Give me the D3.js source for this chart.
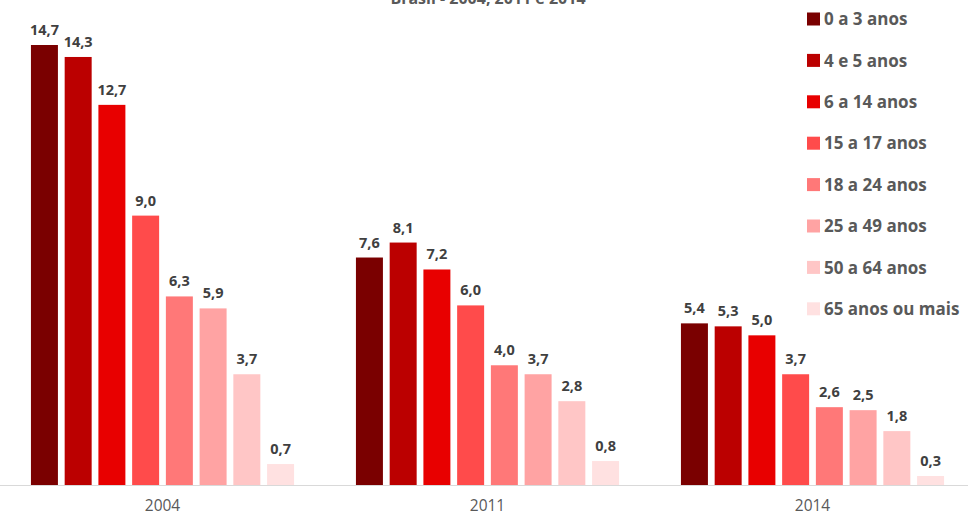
<!DOCTYPE html>
<html>
<head>
<meta charset="utf-8">
<script src="https://cdn.jsdelivr.net/npm/d3@7"></script>
<style>
  html, body { margin: 0; padding: 0; background: #fff; }
  svg { display: block; font-family: "Open Sans", Lato, "Liberation Sans", sans-serif; }
</style>
</head>
<body>
<svg id="chart" width="968" height="516"></svg>
<script>
// Years shown on the x axis
const years = ["2004", "2011", "2014"];
// Age groups (one bar per group within each year)
const ageGroups = ["0 a 3 anos", "4 e 5 anos", "6 a 14 anos", "15 a 17 anos",
                   "18 a 24 anos", "25 a 49 anos", "50 a 64 anos", "65 anos ou mais"];
// Percentages per year, ordered as ageGroups
const values2004 = [14.7, 14.3, 12.7, 9.0, 6.3, 5.9, 3.7, 0.7];
const values2011 = [7.6, 8.1, 7.2, 6.0, 4.0, 3.7, 2.8, 0.8];
const values2014 = [5.4, 5.3, 5.0, 3.7, 2.6, 2.5, 1.8, 0.3];
const title = "Brasil - 2004, 2011 e 2014";

const seriesByYear = { "2004": values2004, "2011": values2011, "2014": values2014 };
const colors = ["#7a0000", "#bb0000", "#e80000", "#ff4b4b",
                "#ff7878", "#ffa3a3", "#ffc6c6", "#ffe1e1"];

const svg = d3.select("#chart");
const baseY = 485;
const topY = 45;

const x0 = d3.scaleBand().domain(years).range([0, 975])
  .paddingInner(0.18).paddingOuter(0.09);
const x1 = d3.scaleBand().domain(ageGroups).range([0, x0.bandwidth()])
  .paddingInner(0.2).paddingOuter(0.05);
const y = d3.scaleLinear().domain([0, 14.7]).range([baseY, topY]);
const color = d3.scaleOrdinal().domain(ageGroups).range(colors);
const fmt = v => d3.format(".1f")(v).replace(".", ",");

// Title (sits mostly above the top edge)
svg.append("text")
  .attr("x", 488).attr("y", 4)
  .attr("text-anchor", "middle")
  .attr("font-size", 16).attr("font-weight", "bold")
  .attr("fill", "#595959")
  .text(title);

// Baseline axis
svg.append("line")
  .attr("x1", 0).attr("x2", 968)
  .attr("y1", baseY + 0.5).attr("y2", baseY + 0.5)
  .attr("stroke", "#d9d9d9").attr("stroke-width", 1);

const groups = svg.selectAll("g.year")
  .data(years)
  .join("g")
  .attr("class", "year")
  .attr("transform", d => `translate(${x0(d)},0)`);

const cells = groups.selectAll("g.bar")
  .data(yr => ageGroups.map((g, i) => ({ group: g, value: seriesByYear[yr][i] })))
  .join("g").attr("class", "bar");

cells.append("rect")
  .attr("x", d => x1(d.group))
  .attr("width", x1.bandwidth())
  .attr("y", d => y(d.value))
  .attr("height", d => baseY - y(d.value))
  .attr("fill", d => color(d.group));

cells.append("text")
  .attr("x", d => x1(d.group) + x1.bandwidth() / 2)
  .attr("y", d => y(d.value) - 10)
  .attr("text-anchor", "middle")
  .attr("font-size", 14.5).attr("font-weight", "bold")
  .attr("fill", "#404040")
  .text(d => fmt(d.value));

// Year labels
svg.append("g")
  .attr("transform", `translate(0,${baseY})`)
  .call(d3.axisBottom(x0).tickSize(0).tickPadding(0))
  .call(g => g.select(".domain").remove())
  .call(g => g.selectAll("text")
    .attr("y", 26).attr("dy", null)
    .attr("font-family", "'Open Sans', Lato, sans-serif")
    .attr("font-size", 15.5).attr("fill", "#595959"));

// Legend
const legend = svg.append("g").attr("transform", "translate(807,19)");
const items = legend.selectAll("g")
  .data(ageGroups)
  .join("g")
  .attr("transform", (d, i) => `translate(0,${i * 41.4})`);
items.append("rect")
  .attr("x", 0).attr("y", -6.5).attr("width", 13).attr("height", 13)
  .attr("fill", d => color(d));
items.append("text")
  .attr("x", 17).attr("y", 0).attr("dy", "0.36em")
  .attr("font-size", 17).attr("font-weight", "bold")
  .attr("fill", "#595959")
  .text(d => d);
</script>
</body>
</html>
